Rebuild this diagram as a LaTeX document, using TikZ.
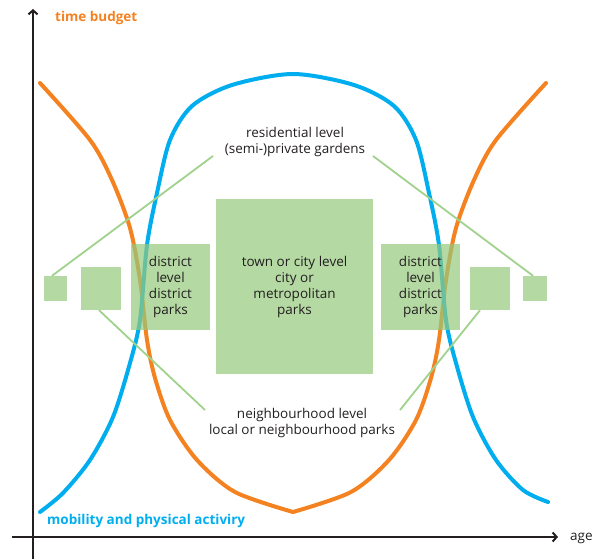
\documentclass[tikz,border=0pt]{standalone}
\usepackage{fontspec}
\setmainfont{Open Sans}
\usetikzlibrary{arrows.meta}
\definecolor{orng}{HTML}{F58220}
\definecolor{blu}{HTML}{00AEEF}
\definecolor{boxgreen}{RGB}{149,201,124}
\definecolor{linegreen}{RGB}{160,210,140}
\definecolor{txt}{HTML}{231F20}
\begin{document}
\begin{tikzpicture}[x=1pt,y=-1pt,
  curve/.style={line width=4pt, line cap=round, line join=round},
  park/.style={fill=boxgreen, fill opacity=0.7, text opacity=1, draw=none, inner sep=0pt, text=txt, align=center, font=\fontsize{13.5}{16}\selectfont},
  leader/.style={draw=linegreen, line width=1.8pt},
  lbl/.style={text=txt, align=center, font=\fontsize{13.5}{16.5}\selectfont, inner sep=0pt},
  axis/.style={line width=2.5pt, draw=txt, -{Straight Barb[length=4pt,width=9pt,line width=2pt]}}]
\useasboundingbox (0,0) rectangle (595,559);
% axes
\coordinate (ybot) at (33,559);
\coordinate (ytop) at (33,9);
\coordinate (xl) at (12,537);
\coordinate (xr) at (558,537);
\draw[axis] (ybot) -- (ytop);
\draw[axis] (xl) -- (xr);
\node[anchor=base west, inner sep=0pt, text=orng, font=\fontsize{13.5}{15}\bfseries\selectfont] (tb) at (55,22) {time budget};
\node[anchor=base west, inner sep=0pt, text=blu, font=\fontsize{13.5}{15}\bfseries\selectfont] (mob) at (47,524) {mobility and physical activiry};
\node[anchor=base west, inner sep=0pt, text=txt, font=\fontsize{13.5}{15}\selectfont] (age) at (570,540) {age};
% curves
\draw[curve, draw=orng] plot[smooth] coordinates {(40,83) (90,140) (112,180) (130,228) (140,280) (147,340) (155,378) (170,420) (197,460) (235,492) (293,512)};
\draw[curve, draw=orng] plot[smooth] coordinates {(546,83) (496,140) (474,180) (456,228) (446,280) (439,340) (431,378) (416,420) (389,460) (351,492) (293,512)};
\draw[curve, draw=blu] plot[smooth] coordinates {(40,512) (63,493) (90,460) (113,417) (130,363) (140,320) (147,245) (157,193) (170,140) (192,106) (232,85) (293,74) (354,85) (394,106) (416,140) (429,193) (439,245) (446,320) (456,363) (473,417) (496,460) (523,490) (548,502)};
% parks
\node[park, minimum width=157pt, minimum height=175pt] (city) at (294.5,286.5) {town or city level\\city or\\metropolitan\\parks};
\node[park, minimum width=79pt, minimum height=86pt] (distL) at (170.5,287) {district\\level\\district\\parks};
\node[park, minimum width=79pt, minimum height=86pt] (distR) at (420.5,287) {district\\level\\district\\parks};
\node[park, minimum width=40pt, minimum height=43pt] (nbL) at (101,288.5) {};
\node[park, minimum width=40pt, minimum height=43pt] (nbR) at (490,288.5) {};
\node[park, minimum width=23pt, minimum height=25pt] (resL) at (55.5,288.5) {};
\node[park, minimum width=24pt, minimum height=25pt] (resR) at (535,288.5) {};
% labels
\node[lbl] (res) at (295,142) {residential level\\(semi-)private gardens};
\node[lbl] (nbh) at (302,423) {neighbourhood level\\local or neighbourhood parks};
% leaders
\coordinate (resLend) at (213,156);
\coordinate (resRend) at (373,156);
\coordinate (nbLend) at (205,410);
\coordinate (nbRend) at (400,410);
\draw[leader] ([xshift=-3.5pt]resL.north) -- (resLend);
\draw[leader] ([xshift=-2pt]resR.north) -- (resRend);
\draw[leader] ([xshift=-2pt]nbL.south) -- (nbLend);
\draw[leader] ([xshift=-10pt]nbR.south) -- (nbRend);
\end{tikzpicture}
\end{document}
